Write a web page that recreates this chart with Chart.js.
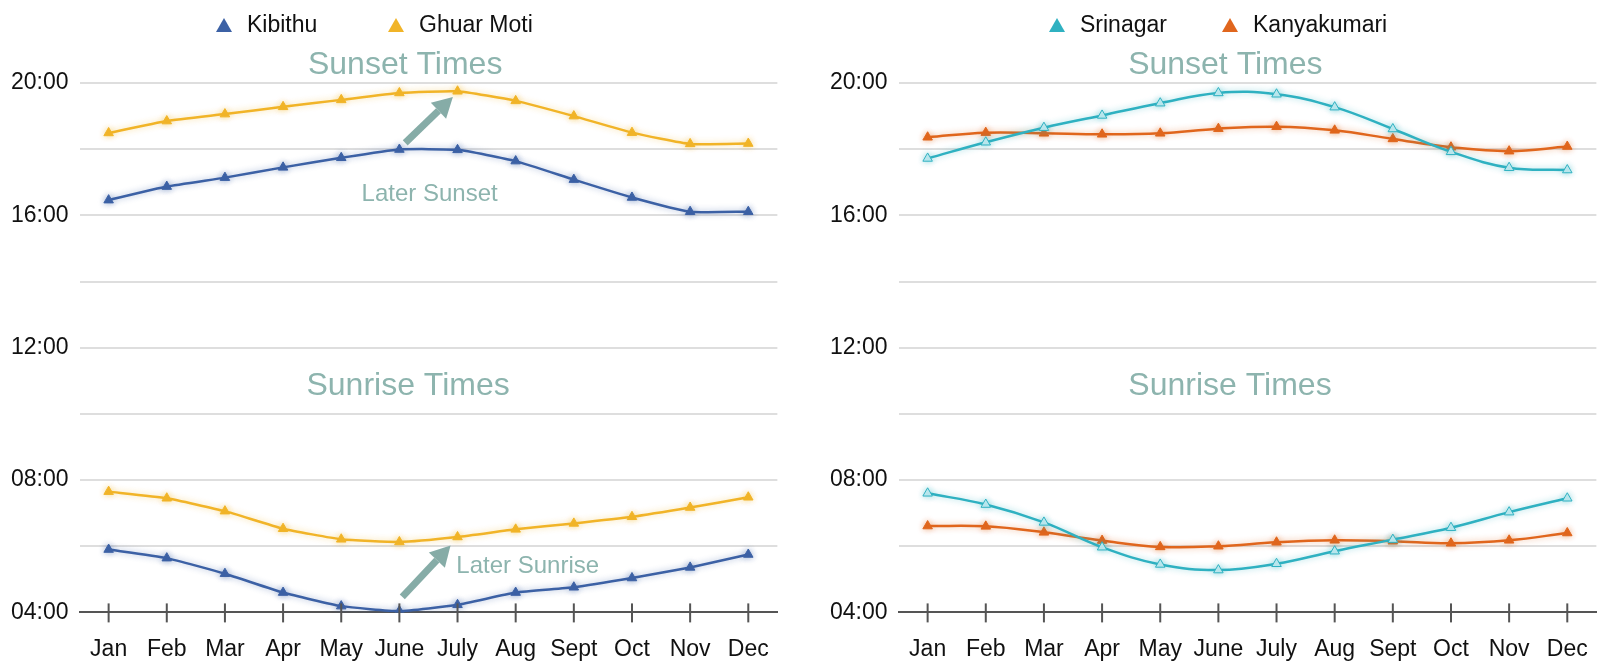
<!DOCTYPE html>
<html>
<head>
<meta charset="utf-8">
<script src="https://cdn.jsdelivr.net/npm/chart.js@4.4.0/dist/chart.umd.min.js"></script>
<style>
  body { margin: 0; background: #fff; width: 1600px; height: 671px; overflow: hidden;
         font-family: "Liberation Sans", Arial, sans-serif; position: relative; }
  .panel { position: absolute; top: 0; height: 694px; }
  #leftPanel { left: 0; width: 792px; }
  #rightPanel { left: 800px; width: 811px; }
  .legend-item { position: absolute; top: 11px; display: flex; align-items: center;
                 font-size: 23px; color: #111; white-space: nowrap; }
  .legend-item .tri { width: 0; height: 0; border-left: 8px solid transparent;
                      border-right: 8px solid transparent; border-bottom: 14px solid; margin-right: 15px; }
</style>
</head>
<body>
<div class="panel" id="leftPanel"><canvas id="leftChart"></canvas></div>
<div class="panel" id="rightPanel"><canvas id="rightChart"></canvas></div>
<div id="legends"></div>
<script>
const months = ["Jan", "Feb", "Mar", "Apr", "May", "June", "July", "Aug", "Sept", "Oct", "Nov", "Dec"];
const hourTicks = [4, 8, 12, 16, 20];

// hours of the day (decimal)
const kibithuSunset = [16.46, 16.87, 17.14, 17.45, 17.74, 17.99, 17.98, 17.64, 17.08, 16.54, 16.11, 16.11];
const kibithuSunrise = [5.90, 5.64, 5.17, 4.60, 4.19, 4.04, 4.23, 4.60, 4.76, 5.04, 5.36, 5.75];
const ghuarSunset = [18.49, 18.85, 19.06, 19.28, 19.49, 19.70, 19.75, 19.46, 19.00, 18.50, 18.16, 18.17];
const ghuarSunrise = [7.65, 7.45, 7.06, 6.53, 6.21, 6.13, 6.28, 6.51, 6.69, 6.89, 7.17, 7.48];

const srinagarSunset = [17.72, 18.21, 18.65, 19.02, 19.39, 19.70, 19.66, 19.27, 18.61, 17.92, 17.44, 17.37];
const srinagarSunrise = [7.60, 7.26, 6.72, 5.97, 5.45, 5.28, 5.47, 5.85, 6.20, 6.56, 7.03, 7.45];
const kanyaSunset = [18.36, 18.50, 18.48, 18.45, 18.48, 18.62, 18.68, 18.57, 18.31, 18.06, 17.94, 18.08];
const kanyaSunrise = [6.61, 6.60, 6.42, 6.17, 5.98, 6.00, 6.12, 6.18, 6.15, 6.09, 6.18, 6.40];

const noteColor = "#8db4ae";
const arrowColor = "#86aca7";

function line(label, data, color, fill, tension) {
  return {
    label: label,
    data: data,
    borderColor: color,
    backgroundColor: color,
    borderWidth: 2.5,
    pointStyle: "triangle",
    pointRadius: 5.5,
    pointBorderWidth: 1,
    pointBackgroundColor: fill,
    pointBorderColor: color,
    tension: tension,
  };
}

// text notes + arrows, placed in data coordinates
const notesPlugin = {
  id: "notes",
  afterDraw(chart, args, opts) {
    const { ctx, scales: { x, y } } = chart;
    ctx.save();
    (opts.texts || []).forEach((t) => {
      ctx.font = t.size + 'px "Liberation Sans", Arial, sans-serif';
      ctx.fillStyle = noteColor;
      ctx.textAlign = t.align || "center";
      ctx.textBaseline = "middle";
      ctx.fillText(t.text, x.getPixelForValue(t.x), y.getPixelForValue(t.y));
    });
    (opts.arrows || []).forEach((a) => {
      const x0 = x.getPixelForValue(a.from[0]), y0 = y.getPixelForValue(a.from[1]);
      const x1 = x.getPixelForValue(a.to[0]), y1 = y.getPixelForValue(a.to[1]);
      const ang = Math.atan2(y1 - y0, x1 - x0);
      const head = 20;
      const bx = x1 - Math.cos(ang) * head, by = y1 - Math.sin(ang) * head;
      ctx.strokeStyle = arrowColor;
      ctx.fillStyle = arrowColor;
      ctx.lineWidth = 7;
      ctx.beginPath();
      ctx.moveTo(x0, y0);
      ctx.lineTo(bx, by);
      ctx.stroke();
      ctx.beginPath();
      ctx.moveTo(x1, y1);
      ctx.lineTo(bx + Math.sin(ang) * 11, by - Math.cos(ang) * 11);
      ctx.lineTo(bx - Math.sin(ang) * 11, by + Math.cos(ang) * 11);
      ctx.closePath();
      ctx.fill();
    });
    ctx.restore();
  },
};

// tick marks that cross the bottom axis line
const crossTicks = {
  id: "crossTicks",
  afterDatasetsDraw(chart) {
    const { ctx, scales: { x }, chartArea } = chart;
    ctx.save();
    ctx.strokeStyle = "#555";
    ctx.lineWidth = 2;
    x.ticks.forEach((t, i) => {
      const px = x.getPixelForTick(i);
      ctx.beginPath();
      ctx.moveTo(px, chartArea.bottom - 9);
      ctx.lineTo(px, chartArea.bottom + 10);
      ctx.stroke();
    });
    ctx.restore();
  },
};

// soft halo around the lines
const glow = {
  id: "glow",
  beforeDatasetDraw(chart, args) {
    const ctx = chart.ctx;
    ctx.save();
    ctx.shadowColor = args.meta.dataset.options.borderColor + "77";
    ctx.shadowBlur = 6;
  },
  afterDatasetDraw(chart) {
    chart.ctx.restore();
  },
};

function makeOptions(padding, notes) {
  return {
    responsive: true,
    maintainAspectRatio: false,
    animation: false,
    layout: { padding: padding },
    scales: {
      x: {
        offset: true,
        grid: { display: true, drawOnChartArea: false, drawTicks: false },
        border: { display: true, color: "#555", width: 2 },
        ticks: { color: "#111", padding: 23, font: { size: 23 } },
      },
      y: {
        min: 4,
        max: 20,
        border: { display: false },
        grid: { color: "#dedede", lineWidth: 2, drawTicks: false },
        ticks: {
          stepSize: 2,
          color: "#111",
          padding: 11,
          font: { size: 23 },
          callback: (v) => (hourTicks.includes(v) ? String(v).padStart(2, "0") + ":00" : ""),
        },
      },
    },
    plugins: {
      legend: { display: false },
      tooltip: { enabled: false },
      notes: notes,
    },
  };
}

Chart.defaults.font.family = '"Liberation Sans", Arial, sans-serif';

const leftChart = new Chart(document.getElementById("leftChart"), {
  type: "line",
  data: {
    labels: months,
    datasets: [
      line("Kibithu", kibithuSunset, "#3c61a5", "#3c61a5", 0.15),
      line("Kibithu", kibithuSunrise, "#3c61a5", "#3c61a5", 0.15),
      line("Ghuar Moti", ghuarSunset, "#f1b428", "#f1b428", 0.15),
      line("Ghuar Moti", ghuarSunrise, "#f1b428", "#f1b428", 0.15),
    ],
  },
  options: makeOptions({ left: 0, right: 0, top: 83, bottom: 8 }, {
    texts: [
      { text: "Sunset Times", x: 5.1, y: 20.55, size: 32 },
      { text: "Sunrise Times", x: 5.15, y: 10.83, size: 32 },
      { text: "Later Sunset", x: 5.52, y: 16.64, size: 24 },
      { text: "Later Sunrise", x: 5.98, y: 5.38, size: 24, align: "left" },
    ],
    arrows: [
      { from: [5.1, 18.19], to: [5.92, 19.58] },
      { from: [5.05, 4.47], to: [5.88, 6.02] },
    ],
  }),
  plugins: [notesPlugin, crossTicks, glow],
});

const rightChart = new Chart(document.getElementById("rightChart"), {
  type: "line",
  data: {
    labels: months,
    datasets: [
      line("Srinagar", srinagarSunset, "#2fb1c1", "#c6ecf1", 0.4),
      line("Srinagar", srinagarSunrise, "#2fb1c1", "#c6ecf1", 0.4),
      line("Kanyakumari", kanyaSunset, "#e0661d", "#e0661d", 0.4),
      line("Kanyakumari", kanyaSunrise, "#e0661d", "#e0661d", 0.4),
    ],
  },
  options: makeOptions({ left: 19, right: 0, top: 83, bottom: 8 }, {
    texts: [
      { text: "Sunset Times", x: 5.12, y: 20.55, size: 32 },
      { text: "Sunrise Times", x: 5.2, y: 10.83, size: 32 },
    ],
  }),
  plugins: [notesPlugin, crossTicks, glow],
});

// html legend, one entry per city
function buildLegend(chart, lefts) {
  const seen = [];
  chart.data.datasets.forEach((ds) => {
    if (seen.find((s) => s.label === ds.label)) return;
    seen.push(ds);
  });
  seen.forEach((ds, i) => {
    const item = document.createElement("div");
    item.className = "legend-item";
    item.style.left = lefts[i] + "px";
    const tri = document.createElement("span");
    tri.className = "tri";
    tri.style.borderBottomColor = ds.borderColor;
    const txt = document.createElement("span");
    txt.textContent = ds.label;
    item.appendChild(tri);
    item.appendChild(txt);
    document.getElementById("legends").appendChild(item);
  });
}
buildLegend(leftChart, [216, 388]);
buildLegend(rightChart, [1049, 1222]);
</script>
</body>
</html>
